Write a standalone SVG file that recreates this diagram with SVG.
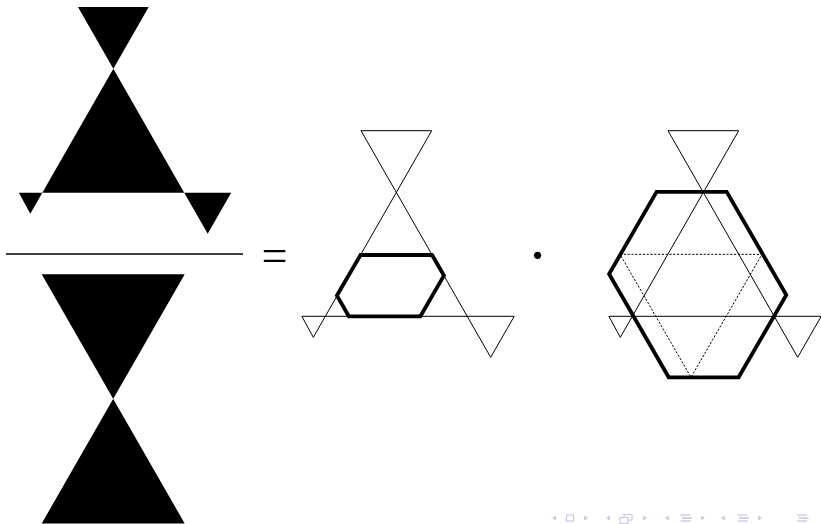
<svg xmlns="http://www.w3.org/2000/svg" width="821" height="524" viewBox="0 0 821 524">
<style>
.thin{fill:none;stroke:#000;stroke-width:1}
.thick{fill:none;stroke:#000;stroke-width:3.8;stroke-linejoin:miter}
.dash{fill:none;stroke:#000;stroke-width:1;stroke-dasharray:2.2,1.6}
.solid{fill:#000;stroke:none}
.nav{fill:#c6c6e8;stroke:none}
.navs{fill:none;stroke:#c6c6e8;stroke-width:1.1}
.sym{font-family:"Liberation Serif",serif;font-size:46px;fill:#000}
.dotsym{font-family:"Liberation Serif",serif;font-size:62px;fill:#000}
</style>
<defs>
<polygon id="star" points="301.9,316.3 313.3,337.3 431.7,130.7 361,130.7 490.7,357.3 514.2,316.3"/>
<polygon id="tl" points="1.8,-2.5 -1.8,0 1.8,2.5"/>
<polygon id="tr" points="-1.8,-2.5 1.8,0 -1.8,2.5"/>
<g id="bars"><rect x="0" y="-3.6" width="10" height="1.3"/><rect x="1.5" y="-0.8" width="10" height="1.6"/><rect x="0" y="2.3" width="10" height="1.3"/></g>
</defs>
<g id="numerator">
<use href="#star" class="solid" transform="translate(-283,-123.6)"/>
</g>
<g id="fraction-bar">
<line x1="6" y1="254" x2="243" y2="254" stroke="#000" stroke-width="1.3"/>
</g>
<g id="denominator">
<path class="solid" d="M41.7,274.3 H184.7 L41.7,523.5 H184.7 Z"/>
</g>
<g id="equals">
<text class="sym" x="274.5" y="271" text-anchor="middle">=</text>
</g>
<g id="middle-figure">
<use href="#star" class="thin"/>
<polygon class="thick" points="360.5,255 432.1,255 443.9,275.6 420.4,316.3 348.8,316.3 336.9,295.5"/>
</g>
<g id="dot">
<text class="dotsym" x="537.5" y="275.5" text-anchor="middle">·</text>
</g>
<g id="right-figure">
<use href="#star" class="thin" transform="translate(307,0)"/>
<polygon class="dash" points="620,254.3 762,254.3 691,377.3"/>
<polygon class="thick" points="656.6,191.8 726.7,191.8 786.3,295 738.6,377.3 668.7,377.3 609.1,274"/>
</g>
<g id="navigation">
<use href="#tl" class="nav" x="554" y="518"/>
<rect class="navs" x="566.5" y="515" width="7" height="6"/>
<use href="#tr" class="nav" x="586" y="518"/>
<use href="#tl" class="nav" x="608" y="518"/>
<rect class="navs" x="624" y="514.5" width="8" height="5.5"/>
<rect x="620" y="517.5" width="8" height="6" fill="#fff" stroke="#c6c6e8" stroke-width="1.1"/>
<use href="#tr" class="nav" x="645" y="518"/>
<use href="#tl" class="nav" x="667" y="518"/>
<use href="#bars" class="nav" x="680.5" y="518"/>
<use href="#tr" class="nav" x="703" y="518"/>
<use href="#tl" class="nav" x="723" y="518"/>
<use href="#bars" class="nav" x="737.5" y="518"/>
<use href="#tr" class="nav" x="760" y="518"/>
<use href="#bars" class="nav" x="797" y="518"/>
</g>
</svg>
